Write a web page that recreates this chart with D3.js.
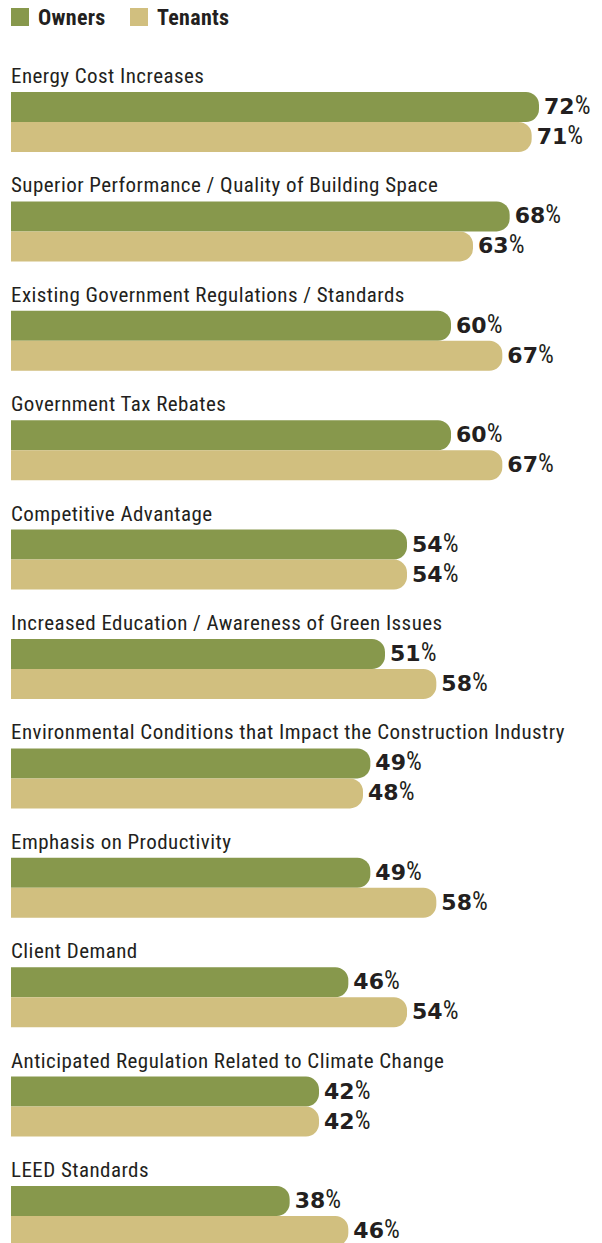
<!DOCTYPE html>
<html><head><meta charset="utf-8">
<script src="https://cdn.jsdelivr.net/npm/d3@7"></script>
<style>
body{margin:0;background:#fff;}
svg{display:block;}
</style></head>
<body>
<svg id="chart" width="602" height="1243"></svg>
<script>
const categories = [
  "Energy Cost Increases",
  "Superior Performance / Quality of Building Space",
  "Existing Government Regulations / Standards",
  "Government Tax Rebates",
  "Competitive Advantage",
  "Increased Education / Awareness of Green Issues",
  "Environmental Conditions that Impact the Construction Industry",
  "Emphasis on Productivity",
  "Client Demand",
  "Anticipated Regulation Related to Climate Change",
  "LEED Standards"
];
const owners  = [72, 68, 60, 60, 54, 51, 49, 49, 46, 42, 38];
const tenants = [71, 63, 67, 67, 54, 58, 48, 58, 54, 42, 46];
const seriesNames = ["Owners", "Tenants"];
const colors = ["#87984c", "#d1bf7f"];

const svg = d3.select("#chart");
const labelFont = "'Liberation Sans Narrow','Roboto Condensed','Arial Narrow',sans-serif";
const valueFont = "'DejaVu Sans',sans-serif";
const ink = "#231f20";

const x = d3.scaleLinear().domain([0, 72]).range([11, 539]);
const y = d3.scaleBand().domain(categories).range([62, 62 + categories.length * 109.4]).paddingInner(0).paddingOuter(0);
const barH = 30, r = 13;

function barPath(x0, x1, y0, h) {
  const rr = Math.min(r, h / 2, x1 - x0);
  return `M${x0},${y0}H${x1 - rr}A${rr},${rr} 0 0 1 ${x1},${y0 + rr}V${y0 + h - rr}A${rr},${rr} 0 0 1 ${x1 - rr},${y0 + h}H${x0}Z`;
}

// Legend
const legend = svg.append("g");
const legX = [11, 130];
seriesNames.forEach((n, i) => {
  legend.append("rect").attr("x", legX[i]).attr("y", 8).attr("width", 18).attr("height", 18).attr("fill", colors[i]);
  legend.append("text").attr("x", legX[i] + 27).attr("y", 25)
    .attr("font-family", labelFont).attr("font-weight", "bold").attr("font-size", 22)
    .attr("letter-spacing", 0.3)
    .attr("fill", ink).text(n);
});

const groups = svg.selectAll("g.grp").data(categories).join("g").attr("class", "grp")
  .attr("transform", d => `translate(0,${y(d)})`);

groups.append("text").attr("x", 11).attr("y", 21)
  .attr("font-family", labelFont).attr("font-size", 21).attr("letter-spacing", 0.45).attr("fill", ink)
  .text(d => d);

const series = [owners, tenants];
series.forEach((vals, si) => {
  const y0 = 30 + si * barH;
  groups.append("path")
    .attr("d", (d, i) => barPath(x(0), x(vals[i]), y0, barH))
    .attr("fill", colors[si]);
  const t = groups.append("text")
    .attr("x", (d, i) => x(vals[i]) + 5)
    .attr("y", y0 + barH / 2 + 7)
    .attr("fill", ink);
  t.append("tspan").attr("font-family", valueFont).attr("font-size", 22).attr("font-weight", "bold").text((d, i) => vals[i]);
  t.append("tspan").attr("font-family", labelFont).attr("font-size", 25).attr("font-weight", 400).text("%");
});
</script>
</body></html>
